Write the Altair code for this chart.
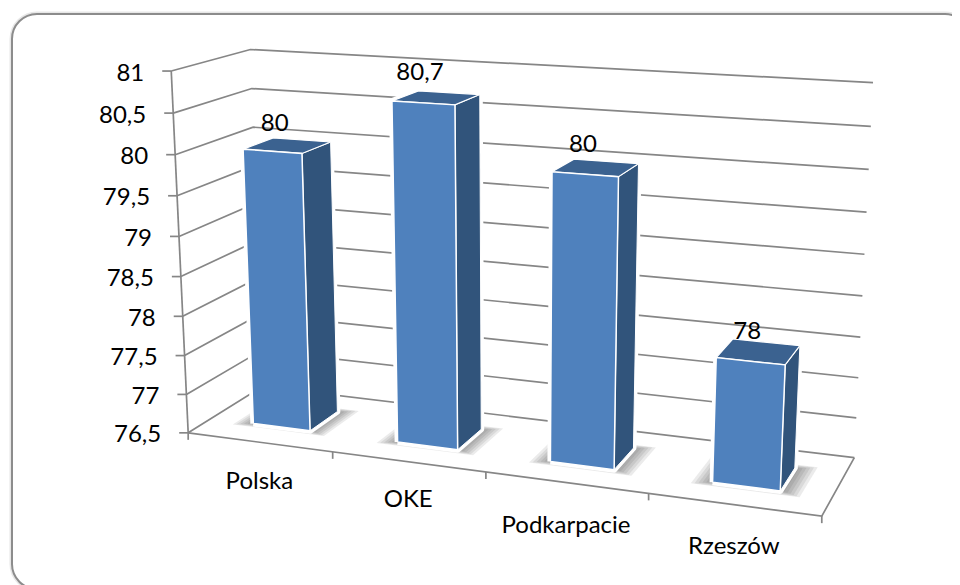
import altair as alt
import numpy as np
import pandas as pd

CATEGORIES = ["Polska", "OKE", "Podkarpacie", "Rzeszów"]
VALUES = [80, 80.7, 80, 78]
VALUE_LABELS = ["80", "80,7", "80", "78"]
TICK_VALUES = [76.5, 77, 77.5, 78, 78.5, 79, 79.5, 80, 80.5, 81]
TICK_LABELS = ["76,5", "77", "77,5", "78", "78,5", "79", "79,5", "80", "80,5", "81"]

W, H = 944, 577
VMIN, VMAX = 76.5, 81
GAP, D0, D1 = 0.3, 0.3, 0.7

# Camera calibration of the 3D view: (category pos, depth, value) -> page pixel
CAL = [
    (0,0,81,171,70),(0,0,80.5,174,112),(0,0,80,175,154),(0,0,79.5,177,195),(0,0,79,179,236),
    (0,0,78.5,181,276),(0,0,78,183,316),(0,0,77.5,185,355),(0,0,77,186,394),(0,0,76.5,188,433),
    (0,1,81,250,49),(0,1,80.5,252,89),(0,1,80,252,127),
    (4,1,81,873,82),(4,1,80.5,871,126),(4,1,80,869,169),(4,1,79.5,866,212),(4,1,79,864,254),
    (4,1,78.5,862,296),(4,1,78,861,338),(4,1,77.5,858.5,378),(4,1,77,856.7,418),(4,1,76.5,854,458),
    (4,0,76.5,821,517),(1,0,76.5,332,453),(2,0,76.5,485,473),(3,0,76.5,648,493),
    (.3,.3,76.5,254,424),(.7,.3,76.5,310,431),(.7,.7,76.5,338,413),
    (.3,.3,80,244,151),(.7,.3,80,302,154),(.7,.7,80,330,143),(.3,.7,80,274,138),
    (1.3,.3,76.5,397,442),(1.7,.3,76.5,458,450),(1.7,.7,76.5,481,427),
    (1.3,.3,80.7,392,102),(1.7,.3,80.7,455,105),(1.7,.7,80.7,479,95),(1.3,.7,80.7,418,91),
    (2.3,.3,76.5,550,462),(2.7,.3,76.5,614,469),(2.7,.7,76.5,634,447),
    (2.3,.3,80,553,172),(2.7,.3,80,618,177),(2.7,.7,80,637,164),(2.3,.7,80,576,159),
    (3.3,.3,76.5,713,482),(3.7,.3,76.5,780,491),(3.7,.7,76.5,796,466),
    (3.3,.3,78,717,358),(3.7,.3,78,786,365),(3.7,.7,78,799,346),(3.3,.7,78,733,339),
]


def fit_camera(cal):
    rows = []
    for u, d, v, x, y in cal:
        X = [u / 4, d, (v - VMIN) / (VMAX - VMIN), 1]
        px, py = x / 500, y / 500
        rows.append(X + [0, 0, 0, 0] + [-px * c for c in X])
        rows.append([0, 0, 0, 0] + X + [-py * c for c in X])
    _, _, vt = np.linalg.svd(np.array(rows))
    return vt[-1].reshape(3, 4)


CAM = fit_camera(CAL)


def proj(u, d, v):
    p = CAM @ np.array([u / 4, d, (v - VMIN) / (VMAX - VMIN), 1])
    return float(p[0] / p[2] * 500 - 8), float(p[1] / p[2] * 500 - 8)


def polyline(rows, pid, pts, **extra):
    for k, (u, d, v) in enumerate(pts):
        x, y = proj(u, d, v)
        rows.append(dict(pid=pid, k=k, x=x, y=y, **extra))


# Wall and floor lines
grid = []
for t in TICK_VALUES:
    polyline(grid, f"g{t}", [(0, 0, t), (0, 1, t), (4, 1, t)])
polyline(grid, "axis", [(0, 0, VMIN), (0, 0, VMAX)])
polyline(grid, "front", [(0, 0, VMIN), (4, 0, VMIN), (4, 1, VMIN)])
for t in TICK_VALUES:
    x, y = proj(0, 0, t)
    grid += [dict(pid=f"t{t}", k=0, x=x - 9, y=y), dict(pid=f"t{t}", k=1, x=x, y=y)]
for i in range(5):
    x, y = proj(i, 0, VMIN)
    grid += [dict(pid=f"c{i}", k=0, x=x, y=y), dict(pid=f"c{i}", k=1, x=x, y=y + 7)]

# Shadows on the floor
shadow = []
for s, (e, f) in enumerate([(0.01, 0.0), (0.03, 0.012), (0.05, 0.024), (0.07, 0.036), (0.09, 0.05), (0.11, 0.06)]):
    for i in range(4):
        u0, u1 = i + GAP - e - 0.005, i + 1 - GAP + e + 0.015
        d0, d1 = D0 - f, D1 + f
        polyline(shadow, f"s{s}-{i}", [(u0, d0, VMIN), (u1, d0, VMIN), (u1, d1, VMIN), (u0, d1, VMIN), (u0, d0, VMIN)])

# Bars
halo, front, side, top = [], [], [], []
for i, val in enumerate(VALUES):
    u0, u1 = i + GAP, i + 1 - GAP
    b = VMIN
    polyline(halo, f"h{i}", [(u0, D0, b), (u1, D0, b), (u1, D1, b), (u1, D1, val), (u0, D1, val), (u0, D0, val), (u0, D0, b)])
    polyline(side, f"r{i}", [(u1, D0, b), (u1, D1, b), (u1, D1, val), (u1, D0, val), (u1, D0, b)])
    polyline(top, f"t{i}", [(u0, D0, val), (u1, D0, val), (u1, D1, val), (u0, D1, val), (u0, D0, val)])
    polyline(front, f"f{i}", [(u0, D0, b), (u1, D0, b), (u1, D0, val), (u0, D0, val), (u0, D0, b)])

# Text
tick_text = []
for t, lab in zip(TICK_VALUES, TICK_LABELS):
    x, y = proj(0, 0, t)
    tick_text.append(dict(x=x - 27, y=y + 2.5, label=lab))
CAT_DY = [40, 38, 43, 42]
cat_text = []
for i, (c, dy) in enumerate(zip(CATEGORIES, CAT_DY)):
    x, y = proj(i + 0.5, 0, VMIN)
    cat_text.append(dict(x=x, y=y + dy, label=c))
VAL_OFF = [(-27, -16), (-29, -20), (-23, -16), (-19, -10)]
val_text = []
for i, (val, lab, (dx, dy)) in enumerate(zip(VALUES, VALUE_LABELS, VAL_OFF)):
    x, y = proj(i + 0.5, D1, val)
    val_text.append(dict(x=x + dx, y=y + dy, label=lab))

X = alt.X("x:Q", scale=alt.Scale(domain=[0, W], nice=False, zero=False), axis=None)
Y = alt.Y("y:Q", scale=alt.Scale(domain=[H, 0], nice=False, zero=False), axis=None)
ENC = dict(x=X, y=Y, detail="pid:N", order="k:Q")


def lines(rows, **mark):
    return alt.Chart(pd.DataFrame(rows)).mark_line(interpolate="linear", **mark).encode(**ENC)


frame_df = pd.DataFrame([dict(x=4, x2=962, y=6, y2=581)])
frame_enc = dict(x=X, x2="x2:Q", y=Y, y2="y2:Q")
frame_glow = alt.Chart(frame_df).mark_rect(cornerRadius=25, fillOpacity=0, stroke="#cfcfcf", strokeWidth=5, strokeOpacity=0.5).encode(**frame_enc)
frame = alt.Chart(frame_df).mark_rect(cornerRadius=25, fill="white", stroke="#8c8c8c", strokeWidth=2).encode(**frame_enc)


def text(rows, **mark):
    return alt.Chart(pd.DataFrame(rows)).mark_text(font="Lato", fontSize=24, color="#000000", baseline="middle", **mark).encode(x=X, y=Y, text="label:N")


chart = alt.layer(
    frame_glow,
    frame,
    lines(grid, color="#868686", strokeWidth=1.7),
    lines(shadow, color="#3a3a3a", fill="#3a3a3a", strokeWidth=0, fillOpacity=0.1),
    lines(halo, color="#ffffff", fill="#ffffff", strokeWidth=6, strokeJoin="round"),
    lines(side, color="#ffffff", fill="#31547b", strokeWidth=1),
    lines(top, color="#ffffff", fill="#3b6290", strokeWidth=1.2),
    lines(front, color="#ffffff", fill="#4f81bd", strokeWidth=1.5),
    text(tick_text, align="right"),
    text(cat_text, align="center"),
    text(val_text, align="center"),
).properties(width=W, height=H, padding=0, autosize=alt.AutoSizeParams(type="none"), background="white").configure_view(stroke=None)

chart.save("out.html", embed_options={"renderer": "svg", "actions": False})
